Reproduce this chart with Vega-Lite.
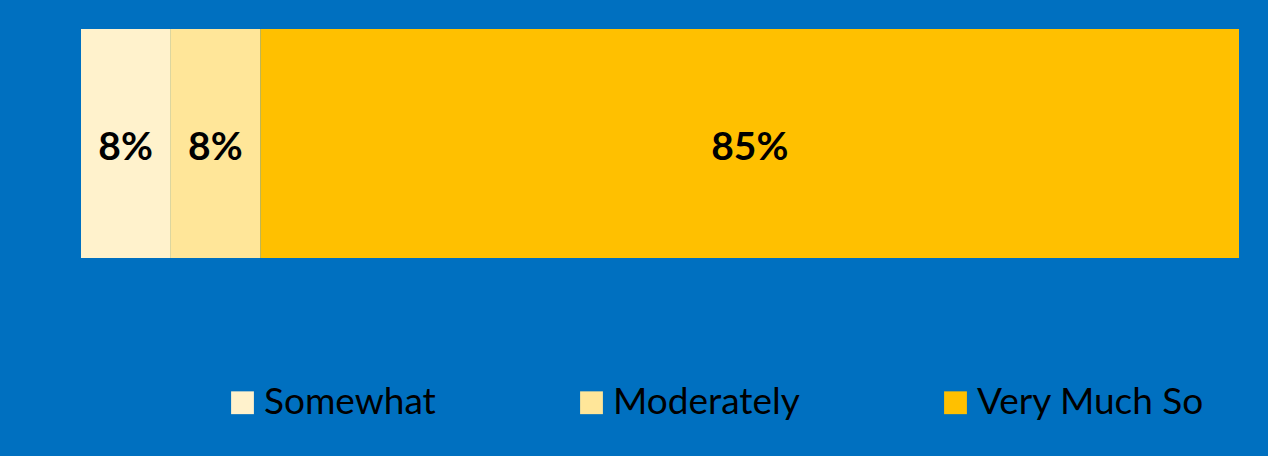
{
  "$schema": "https://vega.github.io/schema/vega-lite/v6.json",
  "background": "#0070C0",
  "padding": {"left": 81, "top": 29, "right": 29, "bottom": 35},
  "width": 1158,
  "height": 229,
  "config": {"view": {"stroke": null}},
  "data": {"values": [
    {"cat": "Somewhat", "v": 0.077, "k": 1, "row": "a"},
    {"cat": "Moderately", "v": 0.078, "k": 2, "row": "a"},
    {"cat": "Very Much So", "v": 0.845, "k": 3, "row": "a"}
  ]},
  "encoding": {
    "y": {"field": "row", "type": "nominal", "axis": null, "scale": {"paddingInner": 0, "paddingOuter": 0}},
    "order": {"field": "k", "type": "quantitative"}
  },
  "layer": [
    {
      "mark": {"type": "bar"},
      "encoding": {
        "x": {"field": "v", "type": "quantitative", "stack": "zero", "axis": null, "scale": {"domain": [0, 1], "nice": false, "zero": true}},
        "color": {
          "field": "cat", "type": "nominal",
          "scale": {"domain": ["Somewhat", "Moderately", "Very Much So"], "range": ["#FFF2CC", "#FFE699", "#FFC000"]},
          "legend": {
            "title": null, "orient": "none", "direction": "horizontal",
            "legendX": 143, "legendY": 355, "padding": 0,
            "symbolType": "square", "symbolSize": 520, "symbolStrokeWidth": 0, "symbolOpacity": 1,
            "labelFont": "Lato", "labelFontSize": 37, "labelColor": "#000000",
            "labelOffset": 3, "columnPadding": 137, "labelLimit": 400
          }
        }
      }
    },
    {
      "mark": {"type": "text", "font": "Lato", "fontSize": 39, "fontWeight": "bold", "color": "#000000", "baseline": "middle", "align": "center", "dy": 4},
      "encoding": {
        "x": {"field": "v", "type": "quantitative", "stack": "zero", "bandPosition": 0.5},
        "text": {"field": "v", "type": "quantitative", "format": ".0%"}
      }
    }
  ]
}
